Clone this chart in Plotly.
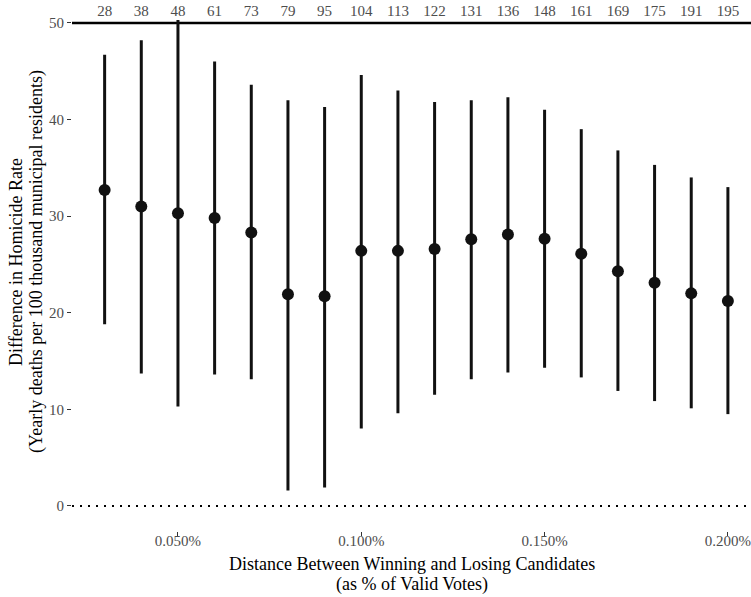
import plotly.graph_objects as go

# Margin between winning and losing candidates (% of valid votes)
distance = [0.03, 0.04, 0.05, 0.06, 0.07, 0.08, 0.09, 0.10, 0.11,
            0.12, 0.13, 0.14, 0.15, 0.16, 0.17, 0.18, 0.19, 0.20]
# Number of municipalities within each bandwidth
n_obs = [28, 38, 48, 61, 73, 79, 95, 104, 113, 122, 131, 136, 148, 161, 169, 175, 191, 195]
# Point estimates and confidence bounds
estimate = [32.7, 31.0, 30.3, 29.8, 28.3, 21.9, 21.7, 26.4, 26.4,
            26.6, 27.6, 28.1, 27.65, 26.1, 24.3, 23.1, 22.0, 21.2]
upper = [46.7, 48.2, 50.3, 46.0, 43.6, 42.0, 41.3, 44.6, 43.0,
         41.8, 42.0, 42.3, 41.0, 39.0, 36.8, 35.3, 34.0, 33.0]
lower = [18.8, 13.7, 10.3, 13.6, 13.1, 1.6, 1.9, 8.0, 9.6,
         11.5, 13.1, 13.8, 14.3, 13.3, 11.9, 10.85, 10.1, 9.5]

x_ticks = [0.05, 0.10, 0.15, 0.20]
x_labels = ["0.050%", "0.100%", "0.150%", "0.200%"]
y_ticks = [0, 10, 20, 30, 40, 50]

x_title = ["Distance Between Winning and Losing Candidates", "(as % of Valid Votes)"]
y_title = ["Difference in Homicide Rate",
           "(Yearly deaths per 100 thousand municipal residents)"]

err_plus = [u - e for u, e in zip(upper, estimate)]
err_minus = [e - l for e, l in zip(estimate, lower)]

FONT = "Liberation Serif"
GREY = "#4d4d4d"
W, H = 751, 597
M_L, M_R, M_T, M_B = 72, 0, 20, 66
plot_w = W - M_L - M_R
plot_h = H - M_T - M_B


def px_to_paper_x(px):
    return (px - M_L) / plot_w


def px_to_paper_y(py):
    return (H - M_B - py) / plot_h


fig = go.Figure()
fig.add_trace(go.Scatter(
    x=distance, y=estimate, mode="markers",
    marker=dict(color="#111111", size=12),
    error_y=dict(type="data", symmetric=False, array=err_plus,
                 arrayminus=err_minus, thickness=3, width=0, color="#111111"),
    showlegend=False, hoverinfo="skip",
))
# invisible trace so the top axis (sample sizes) is drawn
fig.add_trace(go.Scatter(
    x=distance, y=estimate, xaxis="x2", mode="markers",
    marker=dict(opacity=0), showlegend=False, hoverinfo="skip",
))

x_range = [0.0211, 0.2063]

title_font = dict(size=18, family=FONT, color="black")
annotations = [
    dict(text=x_title[0], xref="paper", yref="paper", x=0.5, y=px_to_paper_y(564),
         showarrow=False, xanchor="center", yanchor="middle", font=title_font),
    dict(text=x_title[1], xref="paper", yref="paper", x=0.5, y=px_to_paper_y(584),
         showarrow=False, xanchor="center", yanchor="middle", font=title_font),
    dict(text=y_title[0], xref="paper", yref="paper", x=px_to_paper_x(16), y=px_to_paper_y(262),
         showarrow=False, xanchor="center", yanchor="middle", textangle=-90, font=title_font),
    dict(text=y_title[1], xref="paper", yref="paper", x=px_to_paper_x(36), y=px_to_paper_y(262),
         showarrow=False, xanchor="center", yanchor="middle", textangle=-90, font=title_font),
]

fig.update_layout(
    width=W, height=H,
    margin=dict(l=M_L, r=M_R, t=M_T, b=M_B),
    plot_bgcolor="white", paper_bgcolor="white",
    font=dict(family=FONT, color="black"),
    xaxis=dict(
        range=x_range, tickvals=x_ticks, ticktext=x_labels,
        showgrid=False, zeroline=False, showline=False,
        ticks="outside", ticklen=4, tickwidth=1, tickcolor="#333333",
        ticklabeloverflow="allow", ticklabelstandoff=-8,
        tickfont=dict(size=15, color=GREY, family=FONT),
    ),
    xaxis2=dict(
        range=x_range, overlaying="x", side="top", matches="x",
        tickvals=distance, ticktext=[str(v) for v in n_obs],
        showgrid=False, zeroline=False, showline=False, ticks="",
        ticklabeloverflow="allow",
        tickfont=dict(size=15, color=GREY, family=FONT),
    ),
    yaxis=dict(
        range=[-2.6, 50.3], tickvals=y_ticks,
        showgrid=False, zeroline=False, showline=False,
        ticks="outside", ticklen=4, tickwidth=1, tickcolor="#333333",
        tickfont=dict(size=15, color=GREY, family=FONT),
    ),
    annotations=annotations,
    shapes=[
        dict(type="line", xref="paper", yref="y", x0=0, x1=1, y0=50, y1=50,
             line=dict(color="black", width=2.5), layer="below"),
        dict(type="line", xref="paper", yref="y", x0=0, x1=1, y0=0, y1=0,
             line=dict(color="black", width=2, dash="2px,6px"), layer="below"),
    ],
)

fig.write_html("out.html")
